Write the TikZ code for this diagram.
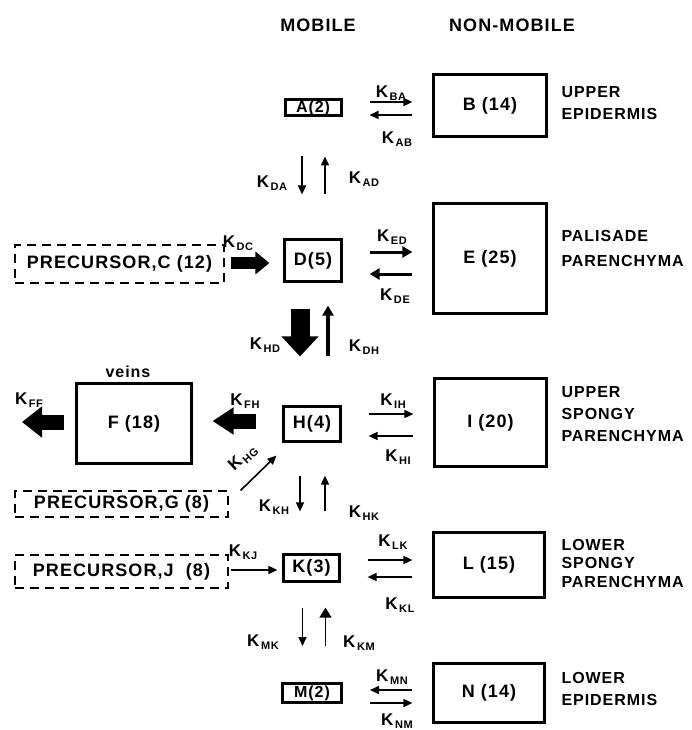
\documentclass[tikz,border=0pt]{standalone}
\usepackage{fontspec}
\setmainfont{Liberation Sans}[LetterSpace=6]
\usetikzlibrary{arrows.meta, positioning, calc}

%% rate constant label: K with a lowered subscript
\newcommand{\kk}[1]{K\kern1.5pt\raisebox{-3.5pt}{\fontsize{11}{11}\selectfont #1}}

\begin{document}
\begin{tikzpicture}[
    x=1pt, y=-1pt,
    %% compartment boxes
    mob/.style  = {draw, line width=2.2pt, inner sep=0pt,
                   font=\fontsize{18}{18}\selectfont\bfseries},
    mobs/.style = {draw, line width=3pt, inner sep=0pt,
                   font=\fontsize{16}{16}\selectfont\bfseries},
    nmob/.style = {draw, line width=2.2pt, inner sep=0pt,
                   font=\fontsize{18}{18}\selectfont\bfseries},
    pre/.style  = {draw, dashed, dash pattern=on 9pt off 6pt, line width=1.2pt,
                   inner sep=0pt, font=\fontsize{18}{18}\selectfont\bfseries},
    tissue/.style = {anchor=west, align=left,
                   font=\fontsize{16}{22}\selectfont\bfseries},
    head/.style = {font=\fontsize{18}{18}\selectfont\bfseries},
    klab/.style = {inner sep=0pt, font=\fontsize{17}{17}\selectfont\bfseries},
    %% arrows
    arr/.style  = {-{Triangle[length=9pt, width=8pt]}, line width=1.6pt},
    arrb/.style = {-{Triangle[length=10pt, width=11pt]}, line width=3pt},
    fat/.style  = {-{Triangle[length=15pt, width=24pt]}, line width=13pt},
    xr/.style   = {shorten <=27pt, shorten >=20pt},
    xl/.style   = {shorten <=20pt, shorten >=27pt},
  ]
  \useasboundingbox (0,0) rectangle (692,730);

  %% ── Column headers ──────────────────────────────────────────
  \node[head] (hmob) at (318,25) {MOBILE};
  \node[head] (hnon) at (512,25) {NON-MOBILE};

  %% ── Mobile column ───────────────────────────────────────────
  \node[mobs, minimum width=56, minimum height=16] (A) at (313,108) {A(2)};
  \node[mob, minimum width=57, minimum height=42] (D) at (313,260.5) {D(5)};
  \node[mob, minimum width=57, minimum height=35] (H) at (312,424) {H(4)};
  \node[mob, minimum width=56, minimum height=27] (K) at (311.5,568) {K(3)};
  \node[mobs, minimum width=59, minimum height=19] (M) at (312,693) {M(2)};

  %% ── Non-mobile column ───────────────────────────────────────
  \node[nmob, minimum width=113, minimum height=62] (B) at (490,105.5) {B (14)};
  \node[nmob, minimum width=113, minimum height=110] (E) at (490,258.5) {E (25)};
  \node[nmob, minimum width=112, minimum height=88] (I) at (490.5,422.5) {I (20)};
  \node[nmob, minimum width=111, minimum height=65] (L) at (489,565) {L (15)};
  \node[nmob, minimum width=111, minimum height=59] (N) at (489,693) {N (14)};

  %% veins and precursors
  \node[nmob, minimum width=115, minimum height=80] (F) at (134,423.5) {F (18)};
  \node[font=\fontsize{16}{16}\selectfont\bfseries] (veins) at (128,372) {veins};
  \node[pre, minimum width=209, minimum height=38] (C) at (119.5,264) {PRECURSOR,C (12)};
  \node[pre, minimum width=213, minimum height=26] (G) at (121.5,504) {PRECURSOR,G (8)};
  \node[pre, minimum width=213, minimum height=33] (J) at (121.5,571.5) {PRECURSOR,J\ \ (8)};

  %% tissue names
  \node[tissue] (tB) at (558,103.5) {UPPER\\EPIDERMIS};
  \node[tissue, font=\fontsize{16}{25}\selectfont\bfseries] (tE) at (558,248.5) {PALISADE\\PARENCHYMA};
  \node[tissue] (tI) at (558,414) {UPPER\\SPONGY\\PARENCHYMA};
  \node[tissue, font=\fontsize{16}{18.5}\selectfont\bfseries] (tL) at (558,563) {LOWER\\SPONGY\\PARENCHYMA};
  \node[tissue] (tN) at (558,689) {LOWER\\EPIDERMIS};

  %% ── Exchange mobile <-> non-mobile ──────────────────────────
  \draw[arr, xr] ($(A.east)+(0,-6)$) -- ($(A.east -| B.west)+(0,-6)$);
  \draw[arr, xl] ($(A.east -| B.west)+(0,7)$) -- ($(A.east)+(0,7)$);
  \draw[arrb, xr] ($(D.east)+(0,-8.5)$) -- ($(D.east -| E.west)+(0,-8.5)$);
  \draw[arrb, xl] ($(D.east -| E.west)+(0,13.5)$) -- ($(D.east)+(0,13.5)$);
  \draw[arr, xr] ($(H.east)+(0,-10)$) -- ($(H.east -| I.west)+(0,-10)$);
  \draw[arr, xl] ($(H.east -| I.west)+(0,12)$) -- ($(H.east)+(0,12)$);
  \draw[arr, xr] ($(K.east)+(0,-8)$) -- ($(K.east -| L.west)+(0,-8)$);
  \draw[arr, xl] ($(K.east -| L.west)+(0,9)$) -- ($(K.east)+(0,9)$);
  \draw[arr, xl] ($(M.east -| N.west)+(0,-3)$) -- ($(M.east)+(0,-3)$);
  \draw[arr, xr] ($(M.east)+(0,10)$) -- ($(M.east -| N.west)+(0,10)$);

  %% ── Vertical exchange in the mobile column ──────────────────
  \draw[arr, shorten <=39pt, shorten >=44pt] ([xshift=-11pt]A.south) -- ([xshift=-11pt]A.south |- D.north);
  \draw[arr, shorten <=44pt, shorten >=39pt] ([xshift=12pt]A.south |- D.north) -- ([xshift=12pt]A.south);
  \draw[-{Triangle[length=20pt, width=36pt]}, line width=19pt, shorten <=26pt, shorten >=49pt]
      ([xshift=-13pt]D.south) -- ([xshift=-13pt]D.south |- H.north);
  \draw[arrb, line width=3.5pt, shorten <=49pt, shorten >=23pt] ([xshift=15pt]D.south |- H.north) -- ([xshift=15pt]D.south);
  \draw[arr, shorten <=33pt, shorten >=42pt] ([xshift=-12pt]H.south) -- ([xshift=-12pt]H.south |- K.north);
  \draw[arr, shorten <=42pt, shorten >=33pt] ([xshift=13pt]H.south |- K.north) -- ([xshift=13pt]H.south);
  \draw[arr, shorten <=25pt, shorten >=36pt] ([xshift=-9pt]K.south) -- ([xshift=-9pt]K.south |- M.north);
  \draw[arr, -{Triangle[length=10pt, width=12pt]}, shorten <=36pt, shorten >=25pt] ([xshift=14pt]K.south |- M.north) -- ([xshift=14pt]K.south);

  %% ── Inputs and output ───────────────────────────────────────
  \draw[fat, line width=12pt, -{Triangle[length=14pt, width=22pt]}, shorten <=6pt, shorten >=14pt]
      ($(C.east)+(0,-1)$) -- ($(C.east -| D.west)+(0,-1)$);
  \draw[fat, line width=15pt, -{Triangle[length=21pt, width=26pt]}, shorten <=26pt, shorten >=20pt]
      ($(H.west)+(0,-3)$) -- ($(H.west -| F.east)+(0,-3)$);
  \coordinate (Fout) at (22,422);
  \draw[fat, line width=15pt, -{Triangle[length=20pt, width=30pt]}, shorten <=11pt] (F.west |- Fout) -- (Fout);
  \draw[arr] ([xshift=12pt]G.north east) -- ([xshift=-6pt, yshift=-13pt]H.south west);
  \draw[arr, shorten <=2pt, shorten >=5pt] ($(J.east)+(0,-1.5)$) -- ($(J.east -| K.west)+(0,-1.5)$);

  %% ── Rate constants ──────────────────────────────────────────
  \node[klab] (kBA) at (391,93)  {\kk{BA}};
  \node[klab] (kAB) at (397,139) {\kk{AB}};
  \node[klab] (kDA) at (272,183) {\kk{DA}};
  \node[klab] (kAD) at (364,179) {\kk{AD}};
  \node[klab] (kDC) at (238,243) {\kk{DC}};
  \node[klab] (kED) at (392,237) {\kk{ED}};
  \node[klab] (kDE) at (395,296) {\kk{DE}};
  \node[klab] (kHD) at (265,345) {\kk{HD}};
  \node[klab] (kDH) at (364,347) {\kk{DH}};
  \node[klab] (kFF) at (29,400)  {\kk{FF}};
  \node[klab] (kFH) at (245,401) {\kk{FH}};
  \node[klab, rotate=43] (kHG) at (243,458) {\kk{HG}};
  \node[klab] (kIH) at (393,401) {\kk{IH}};
  \node[klab] (kHI) at (398,457) {\kk{HI}};
  \node[klab] (kKH) at (274,507) {\kk{KH}};
  \node[klab] (kHK) at (364,513) {\kk{HK}};
  \node[klab] (kKJ) at (243,552) {\kk{KJ}};
  \node[klab] (kLK) at (393,542) {\kk{LK}};
  \node[klab] (kKL) at (400,605) {\kk{KL}};
  \node[klab] (kMK) at (263,642) {\kk{MK}};
  \node[klab] (kKM) at (359,643) {\kk{KM}};
  \node[klab] (kMN) at (392,677) {\kk{MN}};
  \node[klab] (kNM) at (397,721) {\kk{NM}};

\end{tikzpicture}
\end{document}
